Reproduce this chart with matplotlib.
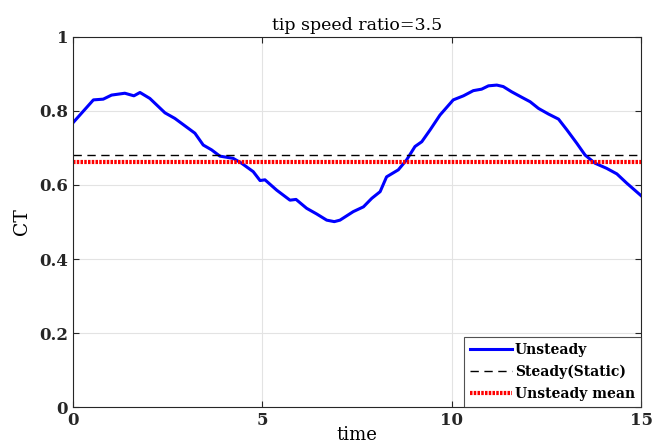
import matplotlib
matplotlib.use("Agg")
import matplotlib.pyplot as plt
from matplotlib.ticker import FuncFormatter

# values
time = [0.0, 0.54, 0.8, 1.02, 1.37, 1.61, 1.77, 2.03, 2.43, 2.69, 3.22, 3.44, 3.66,
        3.88, 4.23, 4.45, 4.76, 4.94, 5.07, 5.38, 5.73, 5.89, 6.17, 6.43, 6.7, 6.9,
        7.05, 7.4, 7.67, 7.89, 8.11, 8.28, 8.59, 8.81, 9.03, 9.21, 9.43, 9.69, 10.04,
        10.31, 10.57, 10.79, 10.97, 11.19, 11.36, 11.58, 11.85, 12.07, 12.29, 12.55,
        12.82, 13.04, 13.3, 13.52, 13.78, 14.09, 14.36, 14.62, 15.0]
ct_unsteady = [0.768, 0.83, 0.832, 0.843, 0.848, 0.841, 0.85, 0.834, 0.795, 0.78, 0.74,
               0.708, 0.695, 0.678, 0.672, 0.659, 0.636, 0.612, 0.614, 0.586, 0.559,
               0.561, 0.537, 0.522, 0.505, 0.501, 0.505, 0.528, 0.541, 0.564, 0.582,
               0.622, 0.641, 0.668, 0.704, 0.717, 0.749, 0.789, 0.83, 0.841, 0.855,
               0.859, 0.868, 0.870, 0.866, 0.852, 0.837, 0.825, 0.807, 0.792, 0.778,
               0.749, 0.713, 0.681, 0.659, 0.645, 0.63, 0.605, 0.571]
ct_steady = 0.681
ct_mean = 0.663

plt.rcParams['font.family'] = ['DejaVu Serif']

fig = plt.figure(figsize=(6.63, 4.44), dpi=100)
ax = fig.add_axes([0.110, 0.0833, 0.857, 0.8334])

ax.plot(time, ct_unsteady, color='#0000ff', lw=2.2, label='Unsteady')
ax.axhline(ct_steady, color='black', lw=1.0, ls=(0, (6, 4)), label='Steady(Static)')
ax.axhline(ct_mean, color='#ff0000', lw=3.0, ls=(0, (0.6, 0.3)), label='Unsteady mean')

ax.set_xlim(0, 15)
ax.set_ylim(0, 1)
ax.set_xticks([0, 5, 10, 15])
ax.set_yticks([0, 0.2, 0.4, 0.6, 0.8, 1.0])
ax.yaxis.set_major_formatter(FuncFormatter(lambda v, p: '%g' % v))
ax.grid(True, color='#e3e3e3', lw=0.8)
ax.set_axisbelow(True)
ax.tick_params(direction='in', length=4, labelsize=12, color='#262626',
               top=True, right=True, labelcolor='#262626')
for lbl in ax.get_xticklabels() + ax.get_yticklabels():
    lbl.set_fontweight('bold')
for s in ax.spines.values():
    s.set_color('#262626')
    s.set_linewidth(0.8)

ax.set_title('tip speed ratio=3.5', fontsize=12.5, pad=5)
ax.set_xlabel('time', fontsize=13, labelpad=-2)
ax.set_ylabel('CT', fontsize=13.5, labelpad=6)

leg = ax.legend(loc='lower right', frameon=True, fancybox=False,
                borderaxespad=0, handlelength=3.0, handletextpad=0.2,
                borderpad=0.45, labelspacing=0.55, prop={'weight': 'bold', 'size': 10})
leg.get_frame().set_edgecolor('#262626')
leg.get_frame().set_linewidth(0.8)

fig.savefig('out.png', dpi=100)
